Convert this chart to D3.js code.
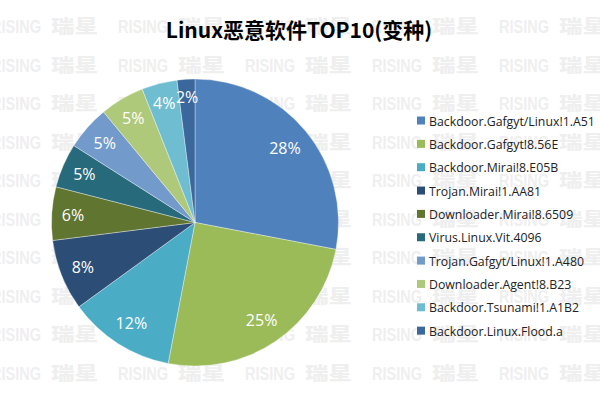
<!DOCTYPE html>
<html><head><meta charset="utf-8">
<script src="https://cdn.jsdelivr.net/npm/d3@7"></script>
<style>body{margin:0;background:#fff}svg{display:block}</style>
</head><body>
<svg id="c" width="600" height="400"></svg>
<script>
const categories = ["Backdoor.Gafgyt/Linux!1.A51","Backdoor.Gafgyt!8.56E","Backdoor.Mirai!8.E05B","Trojan.Mirai!1.AA81","Downloader.Mirai!8.6509","Virus.Linux.Vit.4096","Trojan.Gafgyt/Linux!1.A480","Downloader.Agent!8.B23","Backdoor.Tsunami!1.A1B2","Backdoor.Linux.Flood.a"];
const values = [28,25,12,8,6,5,5,5,4,2];
const colors = ["#4F81BD","#9BBB59","#4BACC6","#2C4D75","#5F7530","#276A7C","#729ACA","#AFC97A","#6FBDD1","#3A679C"];
const title = "Linux恶意软件TOP10(变种)";
const watermarkWords = ["RISING","瑞星"];

const svg = d3.select("#c");
// watermark
const wm = svg.append("g").attr("fill","#efefef").attr("font-weight","bold");
for (let r=0;r<10;r++){
  const y = 33 + r*38.5;
  for (let c=0;c<5;c++){
    const x = -9 + c*127;
    wm.append("text").attr("x",x).attr("y",y).attr("font-size",18)
      .attr("font-family","Liberation Sans Narrow, Liberation Sans, sans-serif")
      .attr("textLength",50).attr("lengthAdjust","spacingAndGlyphs").text(watermarkWords[0]);
    wm.append("text").attr("x",x+60).attr("y",y).attr("font-size",18)
      .attr("font-family","Noto Sans CJK SC").attr("font-weight","900")
      .attr("textLength",47).attr("lengthAdjust","spacingAndGlyphs").text(watermarkWords[1]);
  }
}

svg.append("text").attr("x",299).attr("y",38).attr("text-anchor","middle")
  .attr("font-family","Noto Sans CJK SC, sans-serif").attr("font-weight","bold").attr("font-size",21)
  .attr("fill","#000").text(title);

const cx=195, cy=222.5, R=143.5;
const pie = d3.pie().sort(null).value(d=>d)(values);
const arc = d3.arc().innerRadius(0).outerRadius(R);
const g = svg.append("g").attr("transform",`translate(${cx},${cy})`);
g.selectAll("path").data(pie).join("path").attr("d",arc)
  .attr("fill",(d,i)=>colors[i]).attr("stroke","#fff").attr("stroke-width",0.6).attr("stroke-opacity",0.6);
const labels = g.selectAll("text").data(pie).join("text")
  .attr("text-anchor","middle").attr("dy","0.36em")
  .attr("font-family","Open Sans, sans-serif").attr("font-size",16).attr("fill","#fff")
  .text(d=>d.data+"%");
labels.each(function(d){
  const w = this.getComputedTextLength();
  const a = (d.startAngle+d.endAngle)/2;
  const s = Math.sin(a), c = Math.cos(a);
  const rr = 134 - (w/2*Math.abs(s) + 8*Math.abs(c));
  d3.select(this).attr("x", rr*s).attr("y", -rr*c);
});

const lg = svg.append("g");
const probe = lg.append("text").attr("font-family","Open Sans, sans-serif").attr("font-size",12).text(categories[0]);
const fs = 12 * 166 / probe.node().getComputedTextLength();
probe.remove();
categories.forEach((c,i)=>{
  const y = 125.5 + i*23.35;
  lg.append("rect").attr("x",417).attr("y",y-9).attr("width",8).attr("height",8).attr("fill",colors[i]);
  lg.append("text").attr("x",429).attr("y",y).attr("font-family","Open Sans, sans-serif")
    .attr("font-size",fs).attr("fill","#222").text(c);
});
</script>
</body></html>
